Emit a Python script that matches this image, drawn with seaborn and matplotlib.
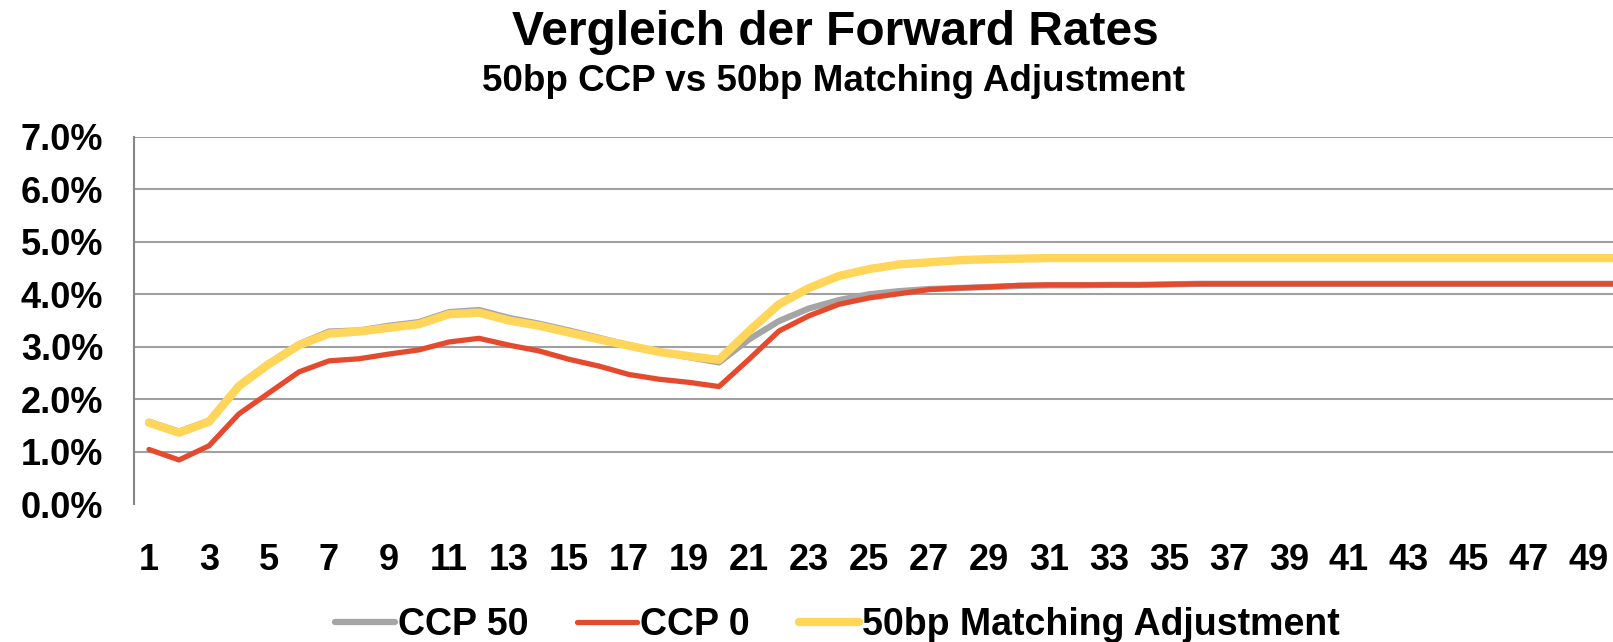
import numpy as np
import pandas as pd
import matplotlib
matplotlib.use("Agg")
import matplotlib.pyplot as plt
import seaborn as sns
from matplotlib.ticker import FuncFormatter

# Laufzeit in Jahren
jahre = list(range(1, 51))

# Forward Rates in %
ccp_50 = [1.57, 1.38, 1.59, 2.27, 2.69, 3.05, 3.29, 3.31, 3.40, 3.47,
          3.66, 3.70, 3.55, 3.44, 3.31, 3.17, 3.03, 2.90, 2.80, 2.70,
          3.14, 3.49, 3.73, 3.89, 4.00, 4.06, 4.10, 4.12, 4.14, 4.16,
          4.17, 4.17, 4.18, 4.18, 4.19, 4.20, 4.20, 4.20, 4.20, 4.20,
          4.20, 4.20, 4.20, 4.20, 4.20, 4.20, 4.20, 4.20, 4.20, 4.20]
ccp_0 = [1.04, 0.84, 1.11, 1.72, 2.12, 2.52, 2.73, 2.77, 2.86, 2.94,
         3.09, 3.16, 3.03, 2.92, 2.76, 2.63, 2.47, 2.38, 2.32, 2.24,
         2.76, 3.30, 3.59, 3.81, 3.93, 4.01, 4.09, 4.12, 4.14, 4.17,
         4.18, 4.18, 4.18, 4.18, 4.19, 4.20, 4.20, 4.20, 4.20, 4.20,
         4.20, 4.20, 4.20, 4.20, 4.20, 4.20, 4.20, 4.20, 4.20, 4.20]
ma_50 = [1.55, 1.36, 1.57, 2.25, 2.67, 3.03, 3.25, 3.29, 3.36, 3.43,
         3.62, 3.65, 3.50, 3.40, 3.27, 3.14, 3.02, 2.90, 2.82, 2.75,
         3.30, 3.81, 4.12, 4.35, 4.48, 4.57, 4.61, 4.65, 4.67, 4.68,
         4.69, 4.69, 4.69, 4.69, 4.69, 4.69, 4.69, 4.69, 4.69, 4.69,
         4.69, 4.69, 4.69, 4.69, 4.69, 4.69, 4.69, 4.69, 4.69, 4.69]

namen = ["CCP 50", "CCP 0", "50bp Matching Adjustment"]
farben = ["#A5A5A5", "#E64A2E", "#FFD55A"]
breiten = [4.5, 3.8, 6.0]

sns.set_style("white")
plt.rcParams['font.family'] = ['Liberation Sans', 'DejaVu Sans']
plt.rcParams['font.weight'] = 'bold'
plt.rcParams['text.color'] = 'black'
plt.rcParams['xtick.color'] = 'black'
plt.rcParams['ytick.color'] = 'black'

fig = plt.figure(figsize=(16.13, 6.42), dpi=100)
ax = fig.add_axes([134/1613, 1-504/642, 1-134/1613, (504-137)/642])

for name, werte, farbe, lw in zip(namen, [ccp_50, ccp_0, ma_50], farben, breiten):
    df = pd.DataFrame({'Jahr': jahre, 'Rate': werte})
    sns.lineplot(data=df, x='Jahr', y='Rate', ax=ax, color=farbe,
                 linewidth=lw, label=name, solid_capstyle='round')

ax.set_xlim(0.5, 49.8)
ax.set_ylim(0, 7)
ax.set_yticks(np.arange(0, 8, 1))
ax.yaxis.set_major_formatter(FuncFormatter(lambda v, p: "%.1f%%" % v))
ax.set_xticks(jahre[::2])
ax.tick_params(axis='both', length=0, labelsize=26, labelcolor='black')
ax.tick_params(axis='y', pad=22)
ax.tick_params(axis='x', pad=28)
for lab in ax.get_xticklabels() + ax.get_yticklabels():
    lab.set_fontweight('bold')
ax.set_xlabel('')
ax.set_ylabel('')

ax.grid(axis='y', color='#A0A0A0', linewidth=1.5)
ax.get_ygridlines()[0].set_visible(False)
ax.set_axisbelow(True)
for s in ['top', 'right', 'bottom']:
    ax.spines[s].set_visible(False)
ax.spines['left'].set_color('#868686')
ax.spines['left'].set_linewidth(1.5)

ax.legend_.remove()
h, l = ax.get_legend_handles_labels()
fig.legend(h, l, loc='center', bbox_to_anchor=(0.519, 0.026), ncol=3,
           frameon=False, prop={'size': 27, 'weight': 'bold'},
           handlelength=1.6, handletextpad=0.08, columnspacing=1.3)

fig.text(0.518, 0.930, "Vergleich der Forward Rates", ha='center',
         va='baseline', fontsize=34.5, fontweight='bold')
fig.text(0.517, 0.859, "50bp CCP vs 50bp Matching Adjustment", ha='center',
         va='baseline', fontsize=26.5, fontweight='bold')

plt.savefig('out.png', dpi=100)
